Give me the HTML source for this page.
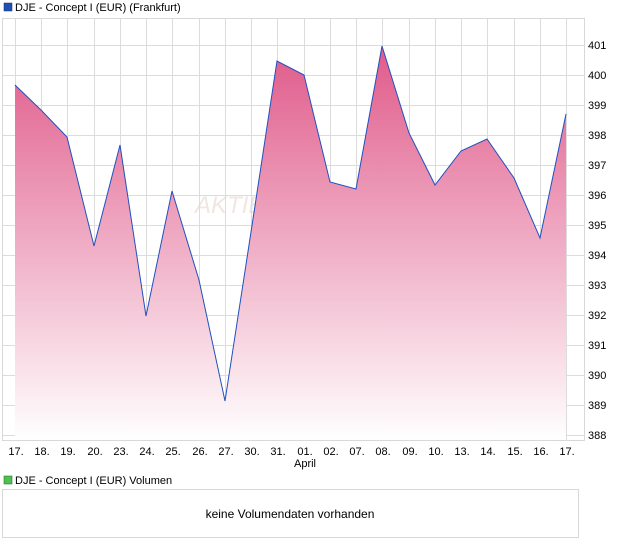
<!DOCTYPE html>
<html><head><style>
body{margin:0;background:#fff;font-family:"Liberation Sans",sans-serif;}
</style></head><body>
<svg width="620" height="546" xmlns="http://www.w3.org/2000/svg" font-family="Liberation Sans, sans-serif">
<defs><linearGradient id="g" x1="0" y1="0" x2="0" y2="1">
<stop offset="0" stop-color="#e05a8a"/><stop offset="1" stop-color="#ffffff"/></linearGradient></defs>
<rect x="4" y="3" width="8" height="8" fill="#2050b0" stroke="#103070" stroke-width="0.5"/>
<text x="15" y="11" font-size="11" fill="#000">DJE - Concept I (EUR) (Frankfurt)</text>
<rect x="2.5" y="18.5" width="582" height="422" fill="#fff" stroke="#d8d8d8"/>
<g stroke="#dcdcdc" stroke-width="1">
<path d="M3 45.5H585M3 75.5H585M3 105.5H585M3 135.5H585M3 165.5H585M3 195.5H585M3 225.5H585M3 255.5H585M3 285.5H585M3 315.5H585M3 345.5H585M3 375.5H585M3 405.5H585M3 435.5H585"/>
<path id="v" d="M15.5 19V441M41.5 19V441M67.5 19V441M94.5 19V441M120.5 19V441M146.5 19V441M172.5 19V441M199.5 19V441M225.5 19V441M251.5 19V441M277.5 19V441M304.5 19V441M330.5 19V441M356.5 19V441M382.5 19V441M409.5 19V441M435.5 19V441M461.5 19V441M487.5 19V441M514.5 19V441M540.5 19V441M566.5 19V441"/>
</g>
<text x="195" y="213" font-size="24" font-style="italic" fill="#e8d8d0" opacity="0.6">AKTIENCHECK</text>
<path d="M15 85L41 110L67 137L94 246L120 145L146 316L172 191L199 280L225 401L251 232L277 61L304 75L330 182L356 189L382 46L409 133L435 185L461 151L487 139L514 178L540 238L566 114L566 440L15 440Z" fill="url(#g)"/>
<path d="M15 85L41 110L67 137L94 246L120 145L146 316L172 191L199 280L225 401L251 232L277 61L304 75L330 182L356 189L382 46L409 133L435 185L461 151L487 139L514 178L540 238L566 114" fill="none" stroke="#2050c0" stroke-width="1"/>
<g font-size="11" fill="#000">
<text x="588" y="49">401</text><text x="588" y="79">400</text><text x="588" y="109">399</text><text x="588" y="139">398</text><text x="588" y="169">397</text><text x="588" y="199">396</text><text x="588" y="229">395</text><text x="588" y="259">394</text><text x="588" y="289">393</text><text x="588" y="319">392</text><text x="588" y="349">391</text><text x="588" y="379">390</text><text x="588" y="409">389</text><text x="588" y="439">388</text>
</g>
<g font-size="11" fill="#000" text-anchor="middle">
<text x="16" y="455">17.</text><text x="42" y="455">18.</text><text x="68" y="455">19.</text><text x="95" y="455">20.</text><text x="121" y="455">23.</text><text x="147" y="455">24.</text><text x="173" y="455">25.</text><text x="200" y="455">26.</text><text x="226" y="455">27.</text><text x="252" y="455">30.</text><text x="278" y="455">31.</text><text x="305" y="455">01.</text><text x="331" y="455">02.</text><text x="357" y="455">07.</text><text x="383" y="455">08.</text><text x="410" y="455">09.</text><text x="436" y="455">10.</text><text x="462" y="455">13.</text><text x="488" y="455">14.</text><text x="515" y="455">15.</text><text x="541" y="455">16.</text><text x="567" y="455">17.</text>
<text x="305" y="467">April</text>
</g>
<rect x="4" y="476" width="8" height="8" fill="#50c050" stroke="#206020" stroke-width="0.5"/>
<text x="15" y="484" font-size="11" fill="#000">DJE - Concept I (EUR) Volumen</text>
<rect x="2.5" y="489.5" width="576" height="48" fill="#fff" stroke="#d8d8d8"/>
<text x="290" y="518" font-size="12" fill="#000" text-anchor="middle">keine Volumendaten vorhanden</text>
</svg>
</body></html>
